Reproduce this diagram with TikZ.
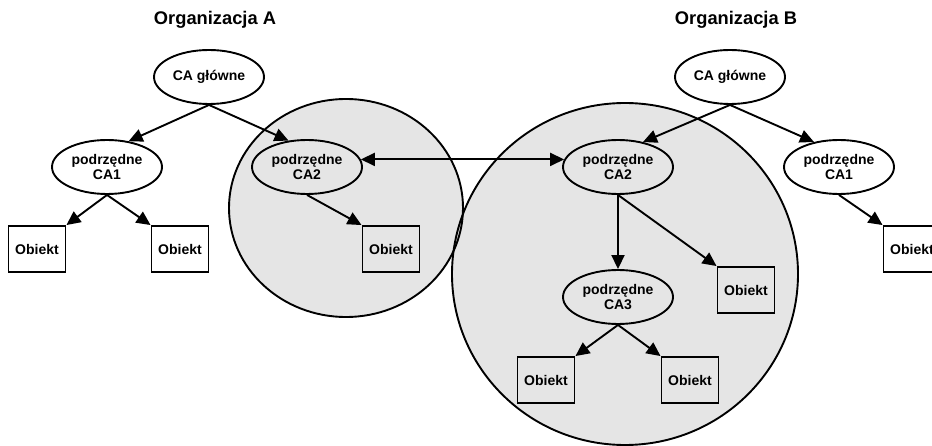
\documentclass[tikz,border=0pt]{standalone}
\usepackage{fontspec}
\setmainfont{Liberation Sans}
\usetikzlibrary{shapes.geometric,arrows.meta}
\definecolor{zone}{HTML}{E5E5E5}
\begin{document}
\begin{tikzpicture}[x=1pt,y=-1pt,
  line width=1.9pt,
  title/.style={font=\fontsize{18.3}{20}\selectfont\bfseries},
  ca/.style={draw,ellipse,minimum width=110pt,minimum height=54pt,inner sep=0pt,
    align=center,font=\fontsize{14}{15}\selectfont\bfseries},
  obj/.style={draw,rectangle,minimum width=57pt,minimum height=46pt,inner sep=0pt,
    font=\fontsize{14}{15}\selectfont\bfseries},
  arr/.style={-{Triangle[length=14pt,width=13pt]}},
  darr/.style={{Triangle[length=14pt,width=13pt]}-{Triangle[length=14pt,width=13pt]}},
]
\useasboundingbox (0,0) rectangle (932,446);
\clip (0,0) rectangle (932,446);

% shaded trust zones
\fill[zone] (346,208) ellipse [x radius=117,y radius=109];
\fill[zone] (625,274) ellipse [x radius=173,y radius=171];
\draw (625,274) ellipse [x radius=173,y radius=171];
\draw (346,208) ellipse [x radius=117,y radius=109];

% organisation A
\node[title] (tA) at (215,20) {Organizacja A};
\node[ca] (rootA) at (209,77) {CA główne};
\node[ca] (ca1A) at (107,167) {podrzędne\\CA1};
\node[ca] (ca2A) at (307,167) {podrzędne\\CA2};
\node[obj] (o1A) at (37,249) {Obiekt};
\node[obj] (o2A) at (180,249) {Obiekt};
\node[obj] (o3A) at (391,249) {Obiekt};

% organisation B
\node[title] (tB) at (736,20) {Organizacja B};
\node[ca] (rootB) at (730,77) {CA główne};
\node[ca] (ca2B) at (618,167) {podrzędne\\CA2};
\node[ca] (ca1B) at (839,167) {podrzędne\\CA1};
\node[ca] (ca3B) at (618,297) {podrzędne\\CA3};
\node[obj] (o1B) at (912,249) {Obiekt};
\node[obj] (o2B) at (746,290) {Obiekt};
\node[obj] (o3B) at (546,380) {Obiekt};
\node[obj] (o4B) at (690,380) {Obiekt};

% hierarchy A
\draw[arr] (rootA.south) -- (ca1A.50);
\draw[arr] (rootA.south) -- (ca2A.125);
\draw[arr] (ca1A.south) -- (o1A.north east);
\draw[arr] (ca1A.south) -- (o2A.north west);
\draw[arr] (ca2A.south) -- (o3A.north west);

% hierarchy B
\draw[arr] (rootB.south) -- (ca2B.45);
\draw[arr] (rootB.south) -- (ca1B.135);
\draw[arr] (ca1B.south) -- (o1B.north west);
\draw[arr] (ca2B.south) -- (ca3B.north);
\draw[arr] (ca2B.south) -- (o2B.north west);
\draw[arr] (ca3B.south) -- (o3B.north east);
\draw[arr] (ca3B.south) -- (o4B.north west);

% cross certification
\draw[darr] (ca2A.8) -- (ca2B.172);
\end{tikzpicture}
\end{document}
